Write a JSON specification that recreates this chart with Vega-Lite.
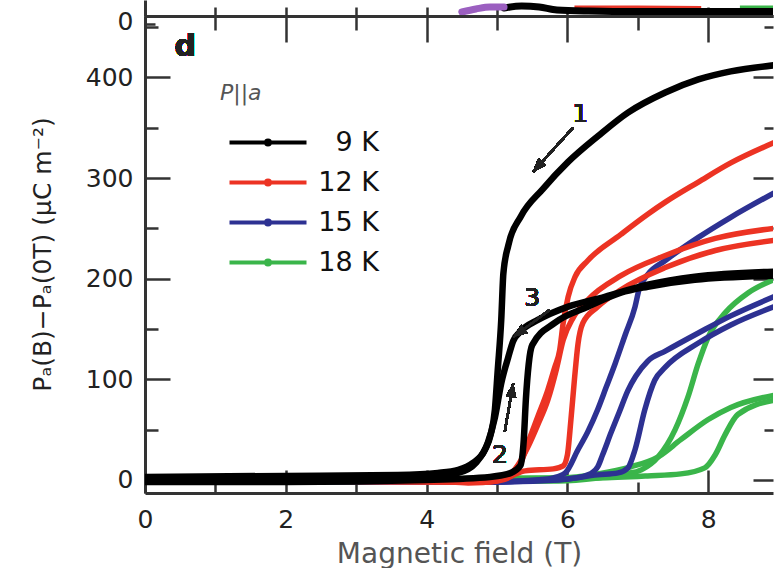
{
  "$schema": "https://vega.github.io/schema/vega-lite/v6.json",
  "background": "white",
  "padding": {"left": 30, "top": 0, "right": 0, "bottom": 0},
  "spacing": 0,
  "bounds": "flush",
  "config": {
    "view": {"stroke": null},
    "font": "DejaVu Sans",
    "axis": {
      "grid": false,
      "labelFont": "DejaVu Sans",
      "titleFont": "DejaVu Sans",
      "domainColor": "#333",
      "domainWidth": 3,
      "tickColor": "#333",
      "tickWidth": 2.5,
      "labelColor": "#222",
      "labelFontSize": 25,
      "labelFlush": false,
      "labelOverlap": false
    },
    "legend": {
      "orient": "none",
      "legendX": 75,
      "legendY": 83,
      "padding": 0,
      "titleFont": "DejaVu Sans",
      "titleFontSize": 22,
      "titleFontStyle": "italic",
      "titleFontWeight": "normal",
      "titleColor": "#555",
      "titlePadding": 24,
      "labelFont": "DejaVu Sans",
      "labelFontSize": 27,
      "labelColor": "#111",
      "labelAlign": "right",
      "labelOffset": 132,
      "symbolType": "M-0.4,0H7.3M3.65,0A0.2,0.2,0,1,1,3.25,0A0.2,0.2,0,1,1,3.65,0",
      "symbolSize": 400,
      "symbolStrokeWidth": 4,
      "rowPadding": 12
    }
  },
  "datasets": {
    "above": [
      {"s": "red", "B": 6.1, "v": 8.5}, {"s": "red", "B": 7.0, "v": 8.5}, {"s": "red", "B": 7.9, "v": 8},
      {"s": "green", "B": 8.45, "v": 8.5}, {"s": "green", "B": 8.93, "v": 8.5},
      {"s": "black", "B": 5.1, "v": 8}, {"s": "black", "B": 5.35, "v": 10}, {"s": "black", "B": 5.6, "v": 9},
      {"s": "black", "B": 5.85, "v": 6}, {"s": "black", "B": 6.3, "v": 5}, {"s": "black", "B": 7.0, "v": 4.5},
      {"s": "black", "B": 8.0, "v": 4.5}, {"s": "black", "B": 8.93, "v": 4.5},
      {"s": "purple", "B": 4.5, "v": 4}, {"s": "purple", "B": 4.7, "v": 7}, {"s": "purple", "B": 4.9, "v": 9},
      {"s": "purple", "B": 5.1, "v": 9}
    ],
    "loops": [
      {"T": "9 K", "run": 1, "B": 8.93, "P": 412}, {"T": "9 K", "run": 1, "B": 8.32, "P": 406},
      {"T": "9 K", "run": 1, "B": 7.86, "P": 398}, {"T": "9 K", "run": 1, "B": 7.39, "P": 385},
      {"T": "9 K", "run": 1, "B": 6.86, "P": 365}, {"T": "9 K", "run": 1, "B": 6.44, "P": 342},
      {"T": "9 K", "run": 1, "B": 6.01, "P": 316}, {"T": "9 K", "run": 1, "B": 5.65, "P": 289},
      {"T": "9 K", "run": 1, "B": 5.34, "P": 262}, {"T": "9 K", "run": 1, "B": 5.16, "P": 233},
      {"T": "9 K", "run": 1, "B": 5.09, "P": 205}, {"T": "9 K", "run": 1, "B": 5.06, "P": 159},
      {"T": "9 K", "run": 1, "B": 5.01, "P": 109}, {"T": "9 K", "run": 1, "B": 4.97, "P": 70},
      {"T": "9 K", "run": 1, "B": 4.91, "P": 45}, {"T": "9 K", "run": 1, "B": 4.83, "P": 30},
      {"T": "9 K", "run": 1, "B": 4.66, "P": 17}, {"T": "9 K", "run": 1, "B": 4.45, "P": 10},
      {"T": "9 K", "run": 1, "B": 4.16, "P": 7}, {"T": "9 K", "run": 1, "B": 3.59, "P": 5},
      {"T": "9 K", "run": 1, "B": 2.0, "P": 4}, {"T": "9 K", "run": 1, "B": 0, "P": 3},
      {"T": "9 K", "run": 2, "B": 0, "P": -2}, {"T": "9 K", "run": 2, "B": 2.0, "P": -2},
      {"T": "9 K", "run": 2, "B": 4.0, "P": 0}, {"T": "9 K", "run": 2, "B": 4.9, "P": 3},
      {"T": "9 K", "run": 2, "B": 5.2, "P": 7}, {"T": "9 K", "run": 2, "B": 5.33, "P": 14},
      {"T": "9 K", "run": 2, "B": 5.38, "P": 40}, {"T": "9 K", "run": 2, "B": 5.41, "P": 80},
      {"T": "9 K", "run": 2, "B": 5.45, "P": 115}, {"T": "9 K", "run": 2, "B": 5.5, "P": 134},
      {"T": "9 K", "run": 2, "B": 5.82, "P": 156}, {"T": "9 K", "run": 2, "B": 6.29, "P": 172},
      {"T": "9 K", "run": 2, "B": 6.76, "P": 186}, {"T": "9 K", "run": 2, "B": 7.14, "P": 192},
      {"T": "9 K", "run": 2, "B": 7.81, "P": 199}, {"T": "9 K", "run": 2, "B": 8.93, "P": 203},
      {"T": "9 K", "run": 3, "B": 8.93, "P": 207}, {"T": "9 K", "run": 3, "B": 7.81, "P": 202},
      {"T": "9 K", "run": 3, "B": 7.14, "P": 194}, {"T": "9 K", "run": 3, "B": 6.53, "P": 182},
      {"T": "9 K", "run": 3, "B": 6.0, "P": 172}, {"T": "9 K", "run": 3, "B": 5.58, "P": 159},
      {"T": "9 K", "run": 3, "B": 5.34, "P": 148}, {"T": "9 K", "run": 3, "B": 5.23, "P": 138},
      {"T": "9 K", "run": 3, "B": 5.16, "P": 122}, {"T": "9 K", "run": 3, "B": 5.06, "P": 96},
      {"T": "9 K", "run": 3, "B": 4.97, "P": 62}, {"T": "9 K", "run": 3, "B": 4.87, "P": 37},
      {"T": "9 K", "run": 3, "B": 4.7, "P": 17}, {"T": "9 K", "run": 3, "B": 4.45, "P": 7},
      {"T": "9 K", "run": 3, "B": 4.0, "P": 3}, {"T": "9 K", "run": 3, "B": 2.0, "P": 1},
      {"T": "9 K", "run": 3, "B": 0, "P": 0},
      {"T": "12 K", "run": 1, "B": 8.93, "P": 335}, {"T": "12 K", "run": 1, "B": 8.32, "P": 315},
      {"T": "12 K", "run": 1, "B": 7.86, "P": 296}, {"T": "12 K", "run": 1, "B": 7.39, "P": 276},
      {"T": "12 K", "run": 1, "B": 7.14, "P": 264}, {"T": "12 K", "run": 1, "B": 6.76, "P": 244},
      {"T": "12 K", "run": 1, "B": 6.29, "P": 218}, {"T": "12 K", "run": 1, "B": 6.11, "P": 202},
      {"T": "12 K", "run": 1, "B": 6.01, "P": 182}, {"T": "12 K", "run": 1, "B": 5.94, "P": 156},
      {"T": "12 K", "run": 1, "B": 5.89, "P": 129}, {"T": "12 K", "run": 1, "B": 5.82, "P": 112},
      {"T": "12 K", "run": 1, "B": 5.72, "P": 89}, {"T": "12 K", "run": 1, "B": 5.58, "P": 63},
      {"T": "12 K", "run": 1, "B": 5.44, "P": 37}, {"T": "12 K", "run": 1, "B": 5.34, "P": 17},
      {"T": "12 K", "run": 1, "B": 5.23, "P": 5}, {"T": "12 K", "run": 1, "B": 5.01, "P": -1},
      {"T": "12 K", "run": 1, "B": 4.59, "P": -3}, {"T": "12 K", "run": 1, "B": 4.16, "P": -1},
      {"T": "12 K", "run": 1, "B": 3.59, "P": 0}, {"T": "12 K", "run": 1, "B": 0, "P": 0},
      {"T": "12 K", "run": 2, "B": 0, "P": 0}, {"T": "12 K", "run": 2, "B": 4.3, "P": -2},
      {"T": "12 K", "run": 2, "B": 4.9, "P": -2}, {"T": "12 K", "run": 2, "B": 5.2, "P": 4},
      {"T": "12 K", "run": 2, "B": 5.4, "P": 9}, {"T": "12 K", "run": 2, "B": 5.8, "P": 11},
      {"T": "12 K", "run": 2, "B": 5.94, "P": 14}, {"T": "12 K", "run": 2, "B": 6.0, "P": 25},
      {"T": "12 K", "run": 2, "B": 6.05, "P": 60}, {"T": "12 K", "run": 2, "B": 6.1, "P": 100},
      {"T": "12 K", "run": 2, "B": 6.15, "P": 135}, {"T": "12 K", "run": 2, "B": 6.22, "P": 156},
      {"T": "12 K", "run": 2, "B": 6.43, "P": 172}, {"T": "12 K", "run": 2, "B": 6.76, "P": 189},
      {"T": "12 K", "run": 2, "B": 7.39, "P": 211}, {"T": "12 K", "run": 2, "B": 8.1, "P": 228},
      {"T": "12 K", "run": 2, "B": 8.93, "P": 238},
      {"T": "12 K", "run": 3, "B": 8.93, "P": 250}, {"T": "12 K", "run": 3, "B": 8.1, "P": 240},
      {"T": "12 K", "run": 3, "B": 7.39, "P": 223}, {"T": "12 K", "run": 3, "B": 6.76, "P": 203},
      {"T": "12 K", "run": 3, "B": 6.29, "P": 179}, {"T": "12 K", "run": 3, "B": 6.08, "P": 161},
      {"T": "12 K", "run": 3, "B": 5.94, "P": 139}, {"T": "12 K", "run": 3, "B": 5.84, "P": 109},
      {"T": "12 K", "run": 3, "B": 5.72, "P": 79}, {"T": "12 K", "run": 3, "B": 5.58, "P": 55},
      {"T": "12 K", "run": 3, "B": 5.44, "P": 33}, {"T": "12 K", "run": 3, "B": 5.3, "P": 15},
      {"T": "12 K", "run": 3, "B": 5.16, "P": 4}, {"T": "12 K", "run": 3, "B": 4.87, "P": -1},
      {"T": "12 K", "run": 3, "B": 4.3, "P": -2}, {"T": "12 K", "run": 3, "B": 0, "P": 0},
      {"T": "15 K", "run": 1, "B": 8.93, "P": 285}, {"T": "15 K", "run": 1, "B": 8.32, "P": 261},
      {"T": "15 K", "run": 1, "B": 7.86, "P": 241}, {"T": "15 K", "run": 1, "B": 7.39, "P": 218},
      {"T": "15 K", "run": 1, "B": 7.14, "P": 204}, {"T": "15 K", "run": 1, "B": 7.02, "P": 190},
      {"T": "15 K", "run": 1, "B": 6.96, "P": 172}, {"T": "15 K", "run": 1, "B": 6.82, "P": 144},
      {"T": "15 K", "run": 1, "B": 6.68, "P": 116}, {"T": "15 K", "run": 1, "B": 6.55, "P": 92},
      {"T": "15 K", "run": 1, "B": 6.43, "P": 70}, {"T": "15 K", "run": 1, "B": 6.29, "P": 48},
      {"T": "15 K", "run": 1, "B": 6.15, "P": 30}, {"T": "15 K", "run": 1, "B": 5.97, "P": 7},
      {"T": "15 K", "run": 1, "B": 5.8, "P": 2}, {"T": "15 K", "run": 1, "B": 5.58, "P": 0},
      {"T": "15 K", "run": 1, "B": 5.0, "P": -2}, {"T": "15 K", "run": 1, "B": 0, "P": -1},
      {"T": "15 K", "run": 2, "B": 0, "P": -1}, {"T": "15 K", "run": 2, "B": 5.0, "P": -2},
      {"T": "15 K", "run": 2, "B": 5.87, "P": 0}, {"T": "15 K", "run": 2, "B": 6.43, "P": 5},
      {"T": "15 K", "run": 2, "B": 6.72, "P": 7}, {"T": "15 K", "run": 2, "B": 6.86, "P": 12},
      {"T": "15 K", "run": 2, "B": 6.96, "P": 30}, {"T": "15 K", "run": 2, "B": 7.1, "P": 70},
      {"T": "15 K", "run": 2, "B": 7.24, "P": 99}, {"T": "15 K", "run": 2, "B": 7.39, "P": 112},
      {"T": "15 K", "run": 2, "B": 7.86, "P": 136}, {"T": "15 K", "run": 2, "B": 8.32, "P": 154},
      {"T": "15 K", "run": 2, "B": 8.93, "P": 172},
      {"T": "15 K", "run": 3, "B": 8.93, "P": 182}, {"T": "15 K", "run": 3, "B": 8.32, "P": 163},
      {"T": "15 K", "run": 3, "B": 7.86, "P": 146}, {"T": "15 K", "run": 3, "B": 7.39, "P": 128},
      {"T": "15 K", "run": 3, "B": 7.14, "P": 118}, {"T": "15 K", "run": 3, "B": 6.97, "P": 103},
      {"T": "15 K", "run": 3, "B": 6.86, "P": 89}, {"T": "15 K", "run": 3, "B": 6.74, "P": 68},
      {"T": "15 K", "run": 3, "B": 6.62, "P": 47}, {"T": "15 K", "run": 3, "B": 6.5, "P": 25},
      {"T": "15 K", "run": 3, "B": 6.43, "P": 13}, {"T": "15 K", "run": 3, "B": 6.29, "P": 5},
      {"T": "15 K", "run": 3, "B": 6.0, "P": 1}, {"T": "15 K", "run": 3, "B": 5.58, "P": 0},
      {"T": "15 K", "run": 3, "B": 5.0, "P": -2}, {"T": "15 K", "run": 3, "B": 0, "P": -1},
      {"T": "18 K", "run": 1, "B": 8.93, "P": 199}, {"T": "18 K", "run": 1, "B": 8.57, "P": 186},
      {"T": "18 K", "run": 1, "B": 8.24, "P": 166}, {"T": "18 K", "run": 1, "B": 8.0, "P": 142},
      {"T": "18 K", "run": 1, "B": 7.86, "P": 116}, {"T": "18 K", "run": 1, "B": 7.71, "P": 82},
      {"T": "18 K", "run": 1, "B": 7.53, "P": 50}, {"T": "18 K", "run": 1, "B": 7.29, "P": 23},
      {"T": "18 K", "run": 1, "B": 7.05, "P": 10}, {"T": "18 K", "run": 1, "B": 6.82, "P": 6},
      {"T": "18 K", "run": 1, "B": 6.43, "P": 2}, {"T": "18 K", "run": 1, "B": 5.87, "P": -1},
      {"T": "18 K", "run": 1, "B": 3.6, "P": -2}, {"T": "18 K", "run": 1, "B": 0, "P": -1},
      {"T": "18 K", "run": 2, "B": 0, "P": -1}, {"T": "18 K", "run": 2, "B": 6.43, "P": 2},
      {"T": "18 K", "run": 2, "B": 7.14, "P": 4}, {"T": "18 K", "run": 2, "B": 7.61, "P": 6},
      {"T": "18 K", "run": 2, "B": 7.95, "P": 12}, {"T": "18 K", "run": 2, "B": 8.1, "P": 25},
      {"T": "18 K", "run": 2, "B": 8.24, "P": 45}, {"T": "18 K", "run": 2, "B": 8.42, "P": 65},
      {"T": "18 K", "run": 2, "B": 8.93, "P": 79},
      {"T": "18 K", "run": 3, "B": 8.93, "P": 84}, {"T": "18 K", "run": 3, "B": 8.32, "P": 72},
      {"T": "18 K", "run": 3, "B": 8.0, "P": 60}, {"T": "18 K", "run": 3, "B": 7.61, "P": 40},
      {"T": "18 K", "run": 3, "B": 7.29, "P": 23}, {"T": "18 K", "run": 3, "B": 6.9, "P": 13},
      {"T": "18 K", "run": 3, "B": 6.43, "P": 6}, {"T": "18 K", "run": 3, "B": 5.87, "P": 2},
      {"T": "18 K", "run": 3, "B": 0, "P": -1}
    ]
  },
  "vconcat": [
    {
      "width": 628,
      "height": 16,
      "data": {"name": "above"},
      "layer": [
        {
          "transform": [{"filter": "datum.s === 'red'"}],
          "mark": {"type": "line", "clip": true, "color": "#e8372a", "strokeWidth": 4},
          "encoding": {
            "x": {
              "field": "B", "type": "quantitative",
              "scale": {"domain": [0, 8.92], "nice": false, "zero": false},
              "axis": {"orient": "bottom", "values": [0, 1, 2, 3, 4, 5, 6, 7, 8], "labels": false, "tickSize": -9, "title": null}
            },
            "y": {
              "field": "v", "type": "quantitative",
              "scale": {"domain": [0, 16], "nice": false, "zero": false},
              "axis": {"orient": "left", "values": [0], "title": null, "tickSize": -10, "tickOffset": 8, "labelOffset": -3, "labelPadding": 22}
            }
          }
        },
        {
          "transform": [{"filter": "datum.s === 'green'"}],
          "mark": {"type": "line", "clip": true, "color": "#3ab54a", "strokeWidth": 4},
          "encoding": {"x": {"field": "B", "type": "quantitative"}, "y": {"field": "v", "type": "quantitative"}}
        },
        {
          "transform": [{"filter": "datum.s === 'black'"}],
          "mark": {"type": "line", "clip": true, "color": "#000", "strokeWidth": 7, "strokeCap": "round", "interpolate": "monotone"},
          "encoding": {"x": {"field": "B", "type": "quantitative"}, "y": {"field": "v", "type": "quantitative"}}
        },
        {
          "transform": [{"filter": "datum.s === 'purple'"}],
          "mark": {"type": "line", "clip": true, "color": "#9b5fc0", "strokeWidth": 7, "strokeCap": "round", "interpolate": "monotone"},
          "encoding": {"x": {"field": "B", "type": "quantitative"}, "y": {"field": "v", "type": "quantitative"}}
        }
      ]
    },
    {
      "width": 628,
      "height": 477,
      "data": {"name": "loops"},
      "resolve": {"axis": {"x": "independent", "y": "independent"}},
      "layer": [
        {
          "layer": [
            {
              "transform": [{"filter": "datum.T === '18 K'"}],
              "mark": {"type": "line", "clip": true, "strokeWidth": 5.5, "strokeCap": "round", "strokeJoin": "round", "interpolate": "monotone"},
              "encoding": {
                "x": {
                  "field": "B", "type": "quantitative",
                  "scale": {"domain": [0, 8.92], "nice": false, "zero": false},
                  "axis": {
                    "orient": "bottom",
                    "values": [0, 1, 2, 3, 4, 5, 6, 7, 8],
                    "format": "d",
                    "labelExpr": "datum.value % 2 === 0 ? datum.label : ''",
                    "tickSize": {"condition": {"test": "datum.value % 2 === 0", "value": -23}, "value": -11},
                    "labelPadding": 37,
                    "title": "Magnetic field (T)",
                    "titleFontSize": 28,
                    "titleFontWeight": "normal",
                    "titleColor": "#555",
                    "titlePadding": -4
                  }
                },
                "y": {
                  "field": "P", "type": "quantitative",
                  "scale": {"domain": [-13, 461], "nice": false, "zero": false},
                  "axis": {
                    "orient": "left",
                    "values": [0, 50, 100, 150, 200, 250, 300, 350, 400, 450],
                    "format": "d",
                    "labelExpr": "datum.value % 100 === 0 ? datum.label : ''",
                    "tickSize": {"condition": {"test": "datum.value % 100 === 0", "value": -25}, "value": -13},
                    "labelPadding": 37,
                    "title": "Pₐ(B)−Pₐ(0T) (µC m⁻²)",
                    "titleFontSize": 25,
                    "titleFontWeight": "normal",
                    "titleColor": "#222",
                    "titleAngle": 270,
                    "titleBaseline": "middle",
                    "titleX": -103,
                    "titleY": 238
                  }
                },
                "color": {
                  "field": "T", "type": "nominal", "title": "P||a",
                  "scale": {"domain": ["9 K", "12 K", "15 K", "18 K"], "range": ["#000000", "#ec3323", "#2d3192", "#3ab54a"]}
                },
                "detail": {"field": "run"}
              }
            },
            {
              "transform": [{"filter": "datum.T === '15 K'"}],
              "mark": {"type": "line", "clip": true, "strokeWidth": 5.5, "strokeCap": "round", "strokeJoin": "round", "interpolate": "monotone"},
              "encoding": {
                "x": {"field": "B", "type": "quantitative"},
                "y": {"field": "P", "type": "quantitative"},
                "color": {"field": "T", "type": "nominal", "title": "P||a"},
                "detail": {"field": "run"}
              }
            },
            {
              "transform": [{"filter": "datum.T === '12 K'"}],
              "mark": {"type": "line", "clip": true, "strokeWidth": 5.5, "strokeCap": "round", "strokeJoin": "round", "interpolate": "monotone"},
              "encoding": {
                "x": {"field": "B", "type": "quantitative"},
                "y": {"field": "P", "type": "quantitative"},
                "color": {"field": "T", "type": "nominal", "title": "P||a"},
                "detail": {"field": "run"}
              }
            },
            {
              "transform": [{"filter": "datum.T === '9 K'"}],
              "mark": {"type": "line", "clip": true, "strokeWidth": 6.5, "strokeCap": "round", "strokeJoin": "round", "interpolate": "monotone"},
              "encoding": {
                "x": {"field": "B", "type": "quantitative"},
                "y": {"field": "P", "type": "quantitative"},
                "color": {"field": "T", "type": "nominal", "title": "P||a"},
                "detail": {"field": "run"}
              }
            },
            {
              "mark": {"type": "rule", "color": "#222", "strokeWidth": 2},
              "encoding": {
                "x": {"datum": 6.08, "type": "quantitative"}, "y": {"datum": 350, "type": "quantitative"},
                "x2": {"datum": 5.51}, "y2": {"datum": 306}
              }
            },
            {
              "mark": {"type": "point", "shape": "M0,0L-0.6,1.6L0.6,1.6Z", "size": 300, "filled": true, "color": "#222", "opacity": 1, "angle": 222},
              "encoding": {"x": {"datum": 5.51, "type": "quantitative"}, "y": {"datum": 306, "type": "quantitative"}}
            },
            {
              "mark": {"type": "rule", "color": "#222", "strokeWidth": 2},
              "encoding": {
                "x": {"datum": 5.75, "type": "quantitative"}, "y": {"datum": 169, "type": "quantitative"},
                "x2": {"datum": 5.23}, "y2": {"datum": 142}
              }
            },
            {
              "mark": {"type": "point", "shape": "M0,0L-0.6,1.6L0.6,1.6Z", "size": 300, "filled": true, "color": "#222", "opacity": 1, "angle": 234},
              "encoding": {"x": {"datum": 5.23, "type": "quantitative"}, "y": {"datum": 142, "type": "quantitative"}}
            },
            {
              "mark": {"type": "rule", "color": "#222", "strokeWidth": 2},
              "encoding": {
                "x": {"datum": 5.11, "type": "quantitative"}, "y": {"datum": 48, "type": "quantitative"},
                "x2": {"datum": 5.23}, "y2": {"datum": 96}
              }
            },
            {
              "mark": {"type": "point", "shape": "M0,0L-0.6,1.6L0.6,1.6Z", "size": 300, "filled": true, "color": "#222", "opacity": 1, "angle": 9},
              "encoding": {"x": {"datum": 5.23, "type": "quantitative"}, "y": {"datum": 96, "type": "quantitative"}}
            },
            {
              "mark": {"type": "text", "text": "1", "fontSize": 25, "color": "#222", "baseline": "middle", "align": "center"},
              "encoding": {"x": {"datum": 6.18, "type": "quantitative"}, "y": {"datum": 364, "type": "quantitative"}}
            },
            {
              "mark": {"type": "text", "text": "3", "fontSize": 25, "color": "#222", "baseline": "middle", "align": "center"},
              "encoding": {"x": {"datum": 5.5, "type": "quantitative"}, "y": {"datum": 181, "type": "quantitative"}}
            },
            {
              "mark": {"type": "text", "text": "2", "fontSize": 25, "color": "#222", "baseline": "middle", "align": "center"},
              "encoding": {"x": {"datum": 5.04, "type": "quantitative"}, "y": {"datum": 25, "type": "quantitative"}}
            },
            {
              "mark": {"type": "text", "text": "d", "fontSize": 30, "fontWeight": "bold", "color": "#222", "baseline": "middle", "align": "center"},
              "encoding": {"x": {"datum": 0.57, "type": "quantitative"}, "y": {"datum": 430, "type": "quantitative"}}
            }
          ]
        },
        {
          "mark": {"type": "point", "opacity": 0},
          "encoding": {
            "x": {
              "datum": 0, "type": "quantitative",
              "axis": {
                "orient": "top",
                "values": [0, 1, 2, 3, 4, 5, 6, 7, 8],
                "labels": false,
                "tickSize": {"condition": {"test": "datum.value % 2 === 0", "value": -26}, "value": -14},
                "title": null
              }
            },
            "y": {
              "datum": 0, "type": "quantitative",
              "axis": {
                "orient": "right",
                "values": [0, 50, 100, 150, 200, 250, 300, 350, 400, 450],
                "labels": false,
                "domain": false,
                "tickSize": {"condition": {"test": "datum.value % 100 === 0", "value": -20}, "value": -9},
                "title": null
              }
            }
          }
        }
      ]
    }
  ]
}
